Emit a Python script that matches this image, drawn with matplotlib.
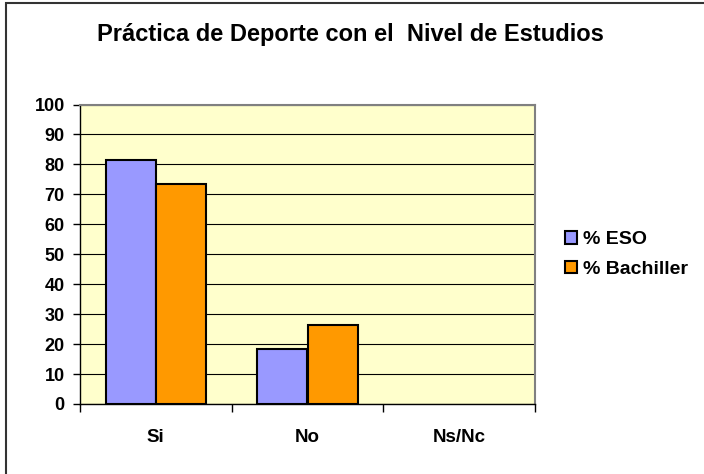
import matplotlib
matplotlib.use("Agg")
import matplotlib.pyplot as plt
from matplotlib.patches import Rectangle
import numpy as np

categories = ["Si", "No", "Ns/Nc"]
eso = [81.6, 18.4, 0]
bachiller = [73.6, 26.4, 0]
series_labels = ["% ESO", "% Bachiller"]
yticks = list(range(0, 101, 10))

plt.rcParams['font.family'] = ['Liberation Sans', 'DejaVu Sans']
plt.rcParams['font.weight'] = 'bold'

W, H = 704, 474
fig = plt.figure(figsize=(W / 100, H / 100), dpi=100)
fig.patch.set_facecolor('white')

# outer chart border (only left and top visible in reference)
fig.patches.append(Rectangle((5.5 / W, -0.1), 1.2, 1 - 2.5 / H + 0.1,
                             transform=fig.transFigure, fill=False,
                             edgecolor='#333333', linewidth=1.5))

ax = fig.add_axes([80 / W, 1 - 404 / H, (535 - 80) / W, (404 - 104.5) / H])
ax.set_facecolor('#FFFFCC')

x = np.arange(len(categories))
w = 0.33
lw_eso = [1.5 if v > 0 else 0 for v in eso]
lw_bac = [1.5 if v > 0 else 0 for v in bachiller]
ax.bar(x - w / 2, eso, w, color='#9999FF', edgecolor='black', linewidth=lw_eso,
       label=series_labels[0], zorder=3)
ax.bar(x + w / 2, bachiller, w, color='#FF9900', edgecolor='black', linewidth=lw_bac,
       label=series_labels[1], zorder=3)

ax.set_xlim(-0.5, len(categories) - 0.5)
ax.set_ylim(0, 100)
ax.set_yticks(yticks)
ax.set_yticklabels([str(v) for v in yticks], fontsize=13, fontweight='bold')
ax.yaxis.grid(True, color='black', linewidth=0.8, zorder=1)
ax.set_axisbelow(True)

# category boundaries as ticks
ax.set_xticks(np.arange(-0.5, len(categories), 1.0))
ax.set_xticklabels([])
ax.set_xticks(x, minor=True)
ax.set_xticklabels(categories, minor=True, fontsize=13.5, fontweight='bold')
ax.tick_params(axis='x', which='minor', length=0, pad=18)
ax.tick_params(axis='x', which='major', length=6, width=1, color='black', direction='out')
ax.tick_params(axis='y', length=5, width=1, color='black', direction='out', pad=6)

for s in ['top', 'right']:
    ax.spines[s].set_color('#808080')
    ax.spines[s].set_linewidth(1.5)
ax.spines['left'].set_color('black')
ax.spines['bottom'].set_color('black')
ax.spines['left'].set_linewidth(1)
ax.spines['bottom'].set_linewidth(1)

fig.text(350 / W, 1 - 35 / H, "Práctica de Deporte con el  Nivel de Estudios",
         ha='center', va='center', fontsize=17, fontweight='bold')

leg = fig.legend(loc='center left', bbox_to_anchor=(557 / W, 1 - 254.5 / H),
                 frameon=False, fontsize=14, handlelength=0.62, handleheight=0.62,
                 handletextpad=0.3, labelspacing=0.65, borderaxespad=0)
for t in leg.get_texts():
    t.set_fontweight('bold')

fig.savefig('out.png', dpi=100)
